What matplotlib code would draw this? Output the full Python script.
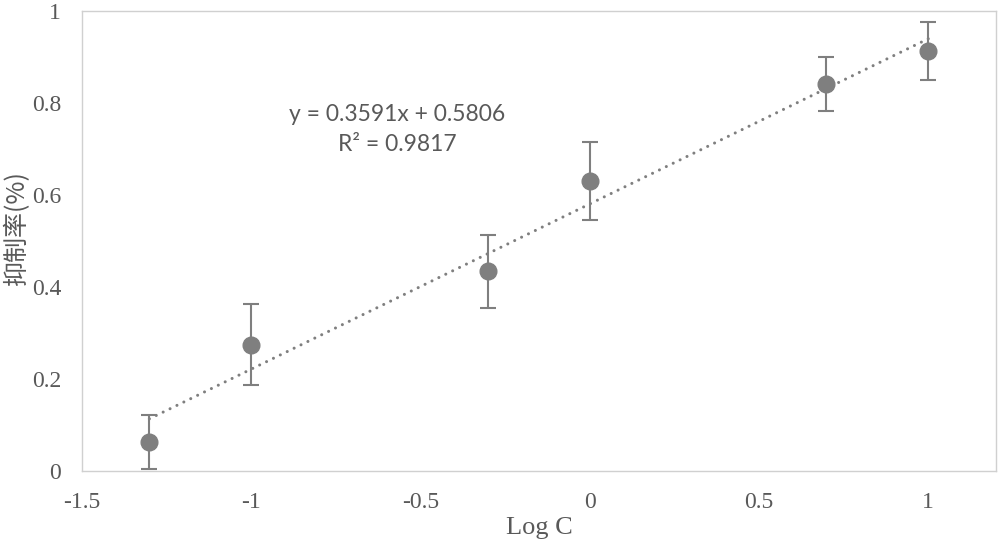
import matplotlib
matplotlib.use("Agg")
import matplotlib.pyplot as plt

# data
log_c = [-1.301, -1.0, -0.301, 0.0, 0.699, 1.0]
inhibition = [0.063, 0.275, 0.434, 0.630, 0.841, 0.913]
errors = [0.058, 0.087, 0.080, 0.085, 0.058, 0.062]

# trendline shown on the chart
slope = 0.3591
intercept = 0.5806
x_ticks = [-1.5, -1, -0.5, 0, 0.5, 1]
y_ticks = [0, 0.2, 0.4, 0.6, 0.8, 1]

grey = "#7f7f7f"
text_grey = "#595959"

fig = plt.figure(figsize=(10, 5.46), dpi=100)
ax = fig.add_axes([0.082, 1 - 471 / 546, 0.914, 460 / 546])

# trendline, from first to last x value
x_line = [log_c[0], log_c[-1]]
y_line = [slope * x + intercept for x in x_line]
ax.plot(x_line, y_line, color=grey, linewidth=2.2,
        linestyle=(0, (0.01, 2.5)), dash_capstyle="round", zorder=2)

ax.errorbar(log_c, inhibition, yerr=errors, fmt="o", color=grey,
            markersize=12, ecolor=grey, elinewidth=1.5, capsize=6,
            capthick=1.5, zorder=3)

ax.set_xlim(-1.5, 1.2)
ax.set_ylim(0, 1)
ax.set_xticks(x_ticks)
ax.set_xticklabels(["-1.5", "-1", "-0.5", "0", "0.5", "1"])
ax.set_yticks(y_ticks)
ax.set_yticklabels(["0", "0.2", "0.4", "0.6", "0.8", "1"])
ax.tick_params(length=0, pad=15, labelsize=17, labelcolor=text_grey)
for lab in ax.get_xticklabels() + ax.get_yticklabels():
    lab.set_fontfamily("Liberation Serif")

for sp in ax.spines.values():
    sp.set_color("#d0d0d0")
    sp.set_linewidth(1)

ax.set_xlabel("Log C", fontsize=19, fontfamily="Liberation Serif",
              color=text_grey, va="center")
ax.xaxis.set_label_coords(0.5, -0.124)
ax.set_ylabel("抑制率(%)", fontsize=18,
              fontfamily=["Noto Sans CJK SC", "DejaVu Sans"], color=text_grey,
              va="center")
ax.yaxis.set_label_coords(-0.071, 0.53)

ax.text(-0.57, 0.774, "y = 0.3591x + 0.5806", fontsize=16.5,
        fontfamily="Lato", color=text_grey, ha="center", va="center")
ax.text(-0.57, 0.709, "R² = 0.9817", fontsize=16.5, fontfamily="Lato",
        color=text_grey, ha="center", va="center")

fig.savefig("out.png", dpi=100)
